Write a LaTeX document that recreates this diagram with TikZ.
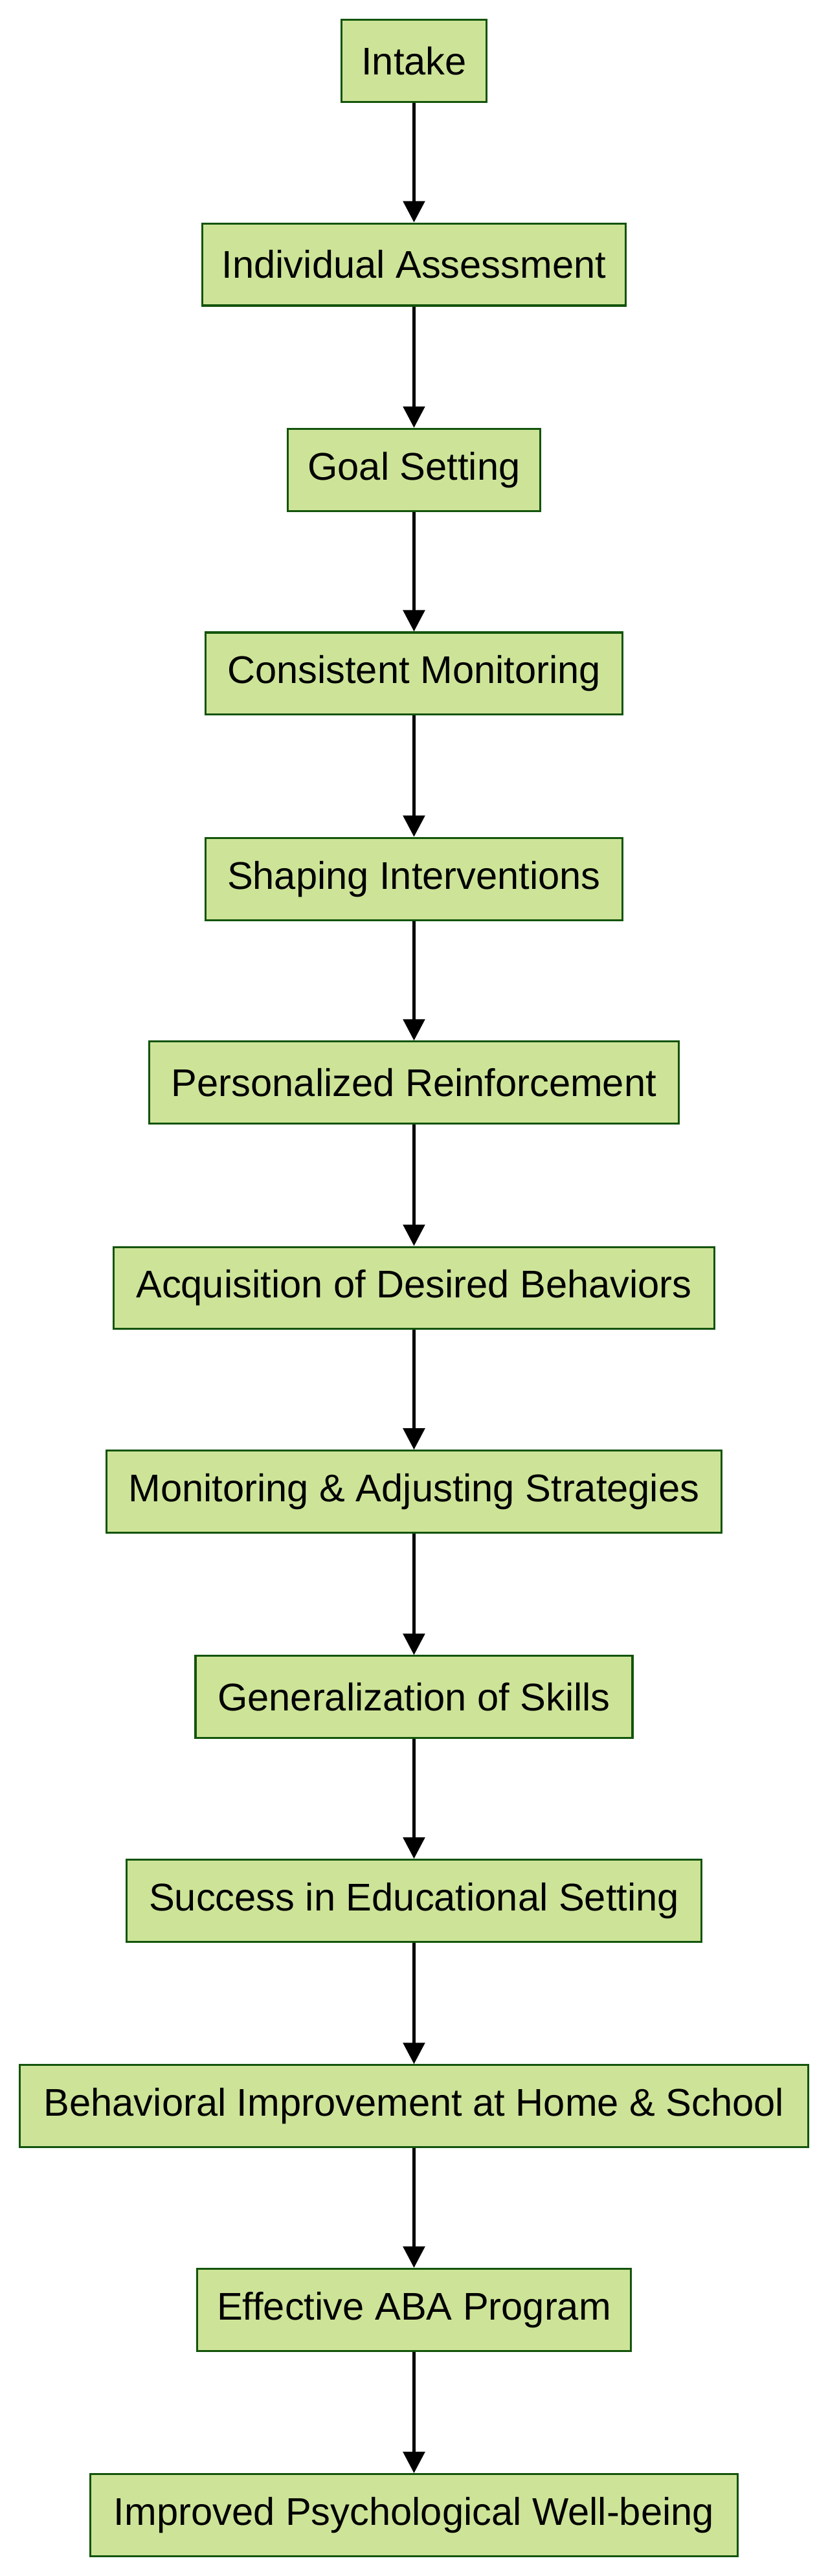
\documentclass[tikz,border=0pt]{standalone}
\usepackage{fontspec}
\setmainfont{Liberation Sans}
\usetikzlibrary{arrows.meta}
\definecolor{boxfill}{HTML}{CDE498}
\definecolor{boxdraw}{HTML}{13540C}
\begin{document}
\begin{tikzpicture}[x=1pt,y=1pt,
  box/.style={draw=boxdraw,fill=boxfill,line width=1.2pt,minimum height=50pt,inner sep=0pt,font=\fontsize{23.5}{27}\selectfont,anchor=center},
  conn/.style={-{Triangle[length=13pt,width=13pt]},line width=2.2pt}]
\useasboundingbox (0,0) rectangle (504,-1568);
\newcommand\mybox[5]{\node[box,minimum width={#3pt-#2pt}] (#1) at ({(#2+#3)/2},{-#4}) {#5};}
\mybox{n1}{208}{296}{37}{Intake}
\mybox{n2}{123}{381}{161}{Individual Assessment}
\mybox{n3}{175}{329}{286}{Goal Setting}
\mybox{n4}{125}{379}{410}{Consistent Monitoring}
\mybox{n5}{125}{379}{535}{Shaping Interventions}
\mybox{n6}{91}{413}{659}{Personalized Reinforcement}
\mybox{n7}{69}{435}{784}{Acquisition of Desired Behaviors}
\mybox{n8}{65}{439}{908}{Monitoring \& Adjusting Strategies}
\mybox{n9}{119}{385}{1033}{Generalization of Skills}
\mybox{n10}{77}{427}{1157}{Success in Educational Setting}
\mybox{n11}{12}{492}{1282}{Behavioral Improvement at Home \& School}
\mybox{n12}{120}{384}{1406}{Effective ABA Program}
\mybox{n13}{55}{449}{1531}{Improved Psychological Well-being}
\foreach \a/\b in {n1/n2,n2/n3,n3/n4,n4/n5,n5/n6,n6/n7,n7/n8,n8/n9,n9/n10,n10/n11,n11/n12,n12/n13}
  \draw[conn] (\a) -- (\b);
\end{tikzpicture}
\end{document}
